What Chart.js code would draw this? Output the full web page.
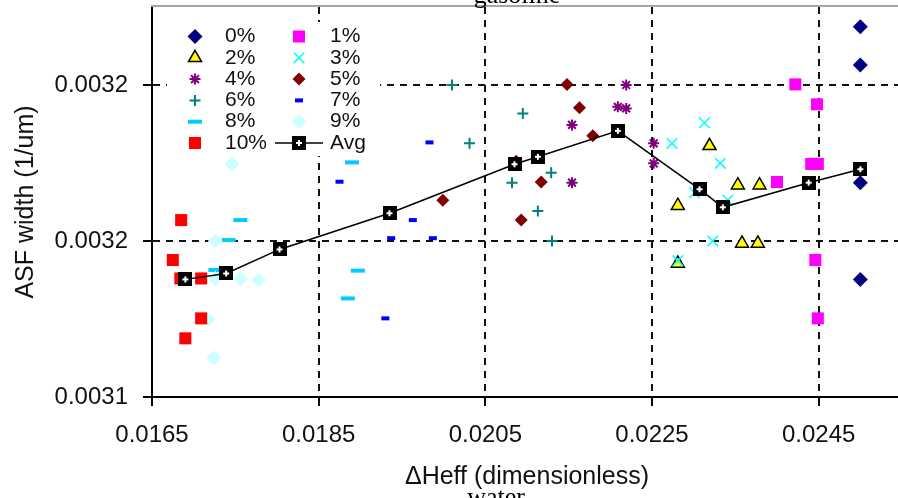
<!DOCTYPE html>
<html>
<head>
<meta charset="utf-8">
<script src="https://cdn.jsdelivr.net/npm/chart.js@4.4.1/dist/chart.umd.min.js"></script>
<style>
  html, body { margin: 0; padding: 0; overflow: hidden; background: #fff; width: 898px; height: 498px; }
  #wrap { position: relative; width: 902px; height: 498px; }
</style>
</head>
<body>
<div id="wrap"><canvas id="c"></canvas></div>
<script>
// ---- data: ΔHeff (x) and ASF width (y) per gasoline fraction ----
const seriesLabels = ['0%', '1%', '2%', '3%', '4%', '5%', '6%', '7%', '8%', '9%', '10%'];

const heff0 = [0.02500, 0.02500, 0.02500, 0.02500];
const asf0  = [0.0032187, 0.0032064, 0.0031687, 0.0031377];

const heff1 = [0.02422, 0.02448, 0.02441, 0.02449, 0.02400, 0.02446, 0.02449];
const asf1  = [0.0032002, 0.0031938, 0.0031747, 0.0031747, 0.0031689, 0.0031439, 0.0031252];

const heff2 = [0.02319, 0.02353, 0.02379, 0.02281, 0.02358, 0.02377, 0.02281];
const asf2  = [0.0031805, 0.0031679, 0.0031679, 0.0031613, 0.0031492, 0.0031492, 0.0031428];

const heff3 = [0.02313, 0.02274, 0.02332, 0.02301, 0.02341, 0.02323, 0.02281];
const asf3  = [0.0031879, 0.0031813, 0.0031749, 0.0031655, 0.0031631, 0.0031500, 0.0031437];

const heff4 = [0.02219, 0.02209, 0.02219, 0.02154, 0.02252, 0.02252, 0.02154];
const asf4  = [0.0032000, 0.0031930, 0.0031925, 0.0031872, 0.0031813, 0.0031749, 0.0031687];

const heff5 = [0.02148, 0.02163, 0.02179, 0.02087, 0.02117, 0.01999, 0.02093];
const asf5  = [0.0032002, 0.0031927, 0.0031837, 0.0031756, 0.0031689, 0.0031631, 0.0031567];

const heff6 = [0.02010, 0.02095, 0.02031, 0.02129, 0.02082, 0.02113, 0.02130];
const asf6  = [0.0032000, 0.0031909, 0.0031813, 0.0031719, 0.0031687, 0.0031596, 0.0031500];

const heff7 = [0.01983, 0.01875, 0.01963, 0.01937, 0.01987, 0.01930];
const asf7  = [0.0031816, 0.0031690, 0.0031567, 0.0031509, 0.0031509, 0.0031252];

const heff8 = [0.01890, 0.01756, 0.01742, 0.01726, 0.01897, 0.01885];
const asf8  = [0.0031752, 0.0031567, 0.0031503, 0.0031407, 0.0031405, 0.0031316];

const heff9 = [0.01746, 0.01726, 0.01726, 0.01756, 0.01778, 0.01717, 0.01724];
const asf9  = [0.0031747, 0.0031500, 0.0031380, 0.0031380, 0.0031375, 0.0031249, 0.0031126];

const heff10 = [0.01685, 0.01675, 0.01684, 0.01709, 0.01709, 0.01690];
const asf10  = [0.0031567, 0.0031439, 0.0031380, 0.0031380, 0.0031252, 0.0031188];

// mean of each fraction, 0% .. 10%
const avgHeff = [0.02500, 0.02438, 0.02335, 0.02307, 0.02209, 0.02113, 0.02085, 0.01935, 0.01803, 0.01739, 0.01690];
const avgAsf  = [0.0031730, 0.0031687, 0.0031608, 0.0031666, 0.0031853, 0.0031770, 0.0031746, 0.0031589, 0.0031473, 0.0031396, 0.0031377];

// axis ticks
const xTickValues = [0.0165, 0.0185, 0.0205, 0.0225, 0.0245];
const xTickLabels = ['0.0165', '0.0185', '0.0205', '0.0225', '0.0245'];
const yTickValues = [0.0031, 0.00315, 0.0032];
const yTickLabels = ['0.0031', '0.0032', '0.0032'];

// ---- marker styles ----
const seriesStyles = [
  { style: 'rectRot',  r: 7.5, fill: '#000080', stroke: '#000080', bw: 0 },
  { style: 'rect',     r: 8.5, fill: '#FF00FF', stroke: '#FF00FF', bw: 0 },
  { style: 'triangle', r: 7.5, fill: '#FFFF00', stroke: '#000000', bw: 1.5 },
  { style: 'crossRot', r: 7.5, fill: '#00FFFF', stroke: '#00FFFF', bw: 1.5 },
  { style: 'star',     r: 5.5, fill: '#800080', stroke: '#800080', bw: 2 },
  { style: 'rectRot',  r: 6.5, fill: '#800000', stroke: '#800000', bw: 0 },
  { style: 'cross',    r: 5.5, fill: '#008080', stroke: '#008080', bw: 2 },
  { style: 'line',     r: 4,   fill: '#0000FF', stroke: '#0000FF', bw: 4 },
  { style: 'line',     r: 7,   fill: '#00CCFF', stroke: '#00CCFF', bw: 4 },
  { style: 'rectRot',  r: 7.5, fill: '#CCFFFF', stroke: '#CCFFFF', bw: 0 },
  { style: 'rect',     r: 8.5, fill: '#FF0000', stroke: '#FF0000', bw: 0 }
];

// black square with a white plus, used for the averages
const avgMarker = (() => {
  const c = document.createElement('canvas');
  c.width = 14; c.height = 14;
  const g = c.getContext('2d');
  g.fillStyle = '#000'; g.fillRect(0, 0, 14, 14);
  g.fillStyle = '#fff'; g.fillRect(4, 6, 6, 2); g.fillRect(6, 4, 2, 6);
  return c;
})();

const heffs = [heff0, heff1, heff2, heff3, heff4, heff5, heff6, heff7, heff8, heff9, heff10];
const asfs  = [asf0, asf1, asf2, asf3, asf4, asf5, asf6, asf7, asf8, asf9, asf10];
const toPoints = (xs, ys) => xs.map((x, i) => ({ x: x, y: ys[i] }));

const datasets = seriesLabels.map((label, i) => {
  const s = seriesStyles[i];
  return {
    label: label,
    data: toPoints(heffs[i], asfs[i]),
    showLine: false,
    pointStyle: s.style,
    pointRadius: s.r,
    backgroundColor: s.fill,
    borderColor: s.stroke,
    borderWidth: s.bw,
    order: seriesLabels.length - i
  };
});
datasets.push({
  label: 'Avg',
  data: toPoints(avgHeff, avgAsf),
  showLine: true,
  borderColor: '#000',
  borderWidth: 1.5,
  backgroundColor: '#000',
  pointStyle: avgMarker,
  pointRadius: 7,
  order: 0
});

const FONT = 'Liberation Sans';

// two-column key on a white box inside the plot, drawn over the grid
const keyBox = {
  id: 'keyBox',
  beforeDatasetsDraw(chart) {
    const ctx = chart.ctx;
    ctx.save();
    ctx.fillStyle = '#fff';
    ctx.fillRect(167, 22, 213, 134);

    const markerX = [195, 299], textX = [225, 330];
    const rowY0 = 36.5, rowH = 21.3;
    ctx.font = '21px "' + FONT + '"';
    ctx.textAlign = 'left';
    ctx.textBaseline = 'middle';
    chart.data.datasets.forEach((ds, k) => {
      const col = k % 2, row = Math.floor(k / 2);
      const mx = markerX[col], my = rowY0 + row * rowH;
      if (k < seriesStyles.length) {
        const s = seriesStyles[k];
        ctx.fillStyle = s.fill;
        ctx.strokeStyle = s.stroke;
        ctx.lineWidth = s.bw;
        Chart.helpers.drawPoint(ctx, { pointStyle: s.style, radius: s.r, borderWidth: s.bw, rotation: 0 }, mx, my);
      } else {
        ctx.strokeStyle = '#000';
        ctx.lineWidth = 1.5;
        ctx.beginPath();
        ctx.moveTo(mx - 24, my);
        ctx.lineTo(mx + 24, my);
        ctx.stroke();
        ctx.drawImage(avgMarker, mx - 7, my - 7);
      }
      ctx.fillStyle = '#111';
      ctx.fillText(ds.label, textX[col], my);
    });
    ctx.restore();
  }
};

// frame top edge and the side captions
const decor = {
  id: 'decor',
  afterDraw(chart) {
    const ctx = chart.ctx, a = chart.chartArea;
    ctx.save();
    ctx.strokeStyle = '#a6a6a6';
    ctx.lineWidth = 2;
    ctx.beginPath();
    ctx.moveTo(a.left - 1, a.top - 1);
    ctx.lineTo(chart.width, a.top - 1);
    ctx.stroke();

    ctx.fillStyle = '#000';
    ctx.font = '26px "Liberation Serif"';
    ctx.textAlign = 'center';
    ctx.textBaseline = 'alphabetic';
    ctx.fillText('gasoline', 517, 3);
    ctx.fillText('water', 496, 505);
    ctx.restore();
  }
};

const gridOpts = {
  color: '#111',
  lineWidth: 2,
  tickColor: '#000',
  tickWidth: 2,
  tickLength: 9,
  tickBorderDash: []
};
const borderOpts = { display: true, color: '#000', width: 2, dash: [7, 6] };

new Chart(document.getElementById('c'), {
  type: 'scatter',
  data: { datasets: datasets },
  plugins: [keyBox, decor],
  options: {
    responsive: true,
    maintainAspectRatio: false,
    animation: false,
    events: [],
    layout: { autoPadding: false, padding: { top: 7, right: 0, bottom: 0, left: 0 } },
    plugins: {
      legend: { display: false },
      tooltip: { enabled: false }
    },
    scales: {
      x: {
        type: 'linear',
        min: 0.0165,
        max: 0.0255,
        afterBuildTicks: s => { s.ticks = xTickValues.map(v => ({ value: v })); },
        afterFit: s => { s.height = 101; s.paddingLeft = 0; s.paddingRight = 0; },
        ticks: {
          autoSkip: false,
          maxRotation: 0,
          padding: 15,
          color: '#111',
          font: { family: FONT, size: 24 },
          callback: (v, i) => xTickLabels[i]
        },
        grid: gridOpts,
        border: borderOpts,
        title: {
          display: true,
          text: 'ΔHeff (dimensionless)',
          color: '#111',
          font: { family: FONT, size: 25 },
          padding: { top: 0, bottom: 6 }
        }
      },
      y: {
        type: 'linear',
        min: 0.0031,
        max: 0.003225,
        afterBuildTicks: s => { s.ticks = yTickValues.map(v => ({ value: v })); },
        afterFit: s => { s.width = 152; s.paddingTop = 0; s.paddingBottom = 0; },
        ticks: {
          padding: 15,
          color: '#111',
          font: { family: FONT, size: 24 },
          callback: (v, i) => yTickLabels[i]
        },
        grid: gridOpts,
        border: borderOpts,
        title: {
          display: true,
          text: 'ASF width (1/um)',
          color: '#111',
          font: { family: FONT, size: 25 },
          padding: { top: 11, bottom: 0 }
        }
      }
    }
  }
});
</script>
</body>
</html>
